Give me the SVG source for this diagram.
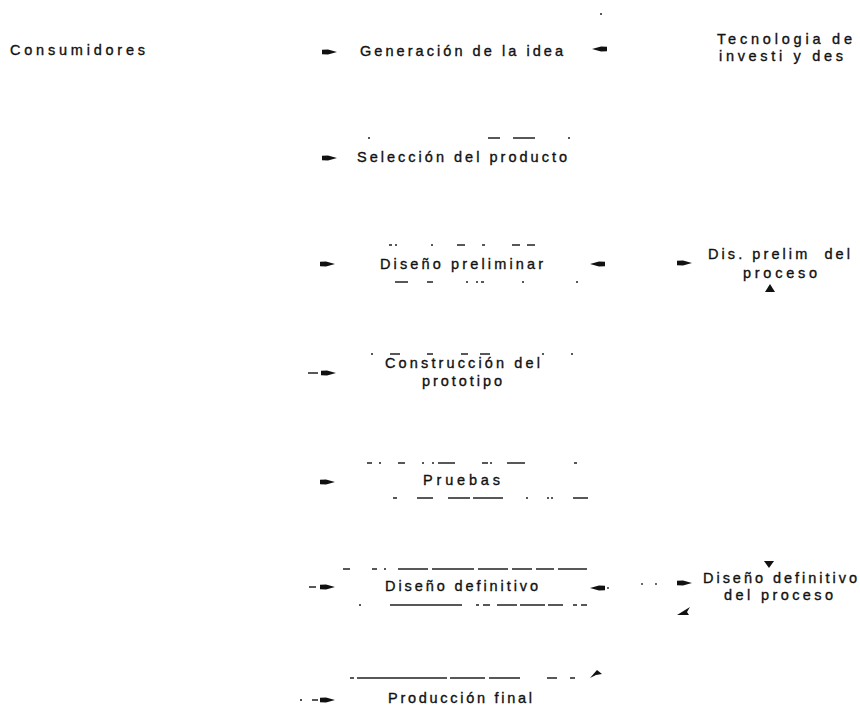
<svg xmlns="http://www.w3.org/2000/svg" width="860" height="711" viewBox="0 0 860 711">
<style>
text{font-family:"Liberation Sans",Arial,sans-serif;font-size:14.5px;fill:#111;stroke:#111;stroke-width:0.35;}
.pre{white-space:pre;}
.frag{stroke:#222;stroke-width:1.4;fill:none;}
.ah{fill:#111;stroke:none;}
.tail{stroke:#111;stroke-width:1.4;}
</style>
<defs>
<path id="ahR" d="M-15,-2.2 L-9,-2.6 L0,0 L-9,2.6 L-15,2.2 Z"/>
<path id="ahL" d="M15,-2.2 L9,-2.6 L0,0 L9,2.6 L15,2.2 Z"/>
</defs>
<rect width="860" height="711" fill="#fff"/>

<g id="consumidores"><text x="10" y="55" textLength="135" lengthAdjust="spacing">Consumidores</text></g>
<g id="tecnologia">
<text x="717" y="44" textLength="135" lengthAdjust="spacing">Tecnologia de</text>
<text x="719" y="61" textLength="124" lengthAdjust="spacing" class="pre">investi y des</text>
</g>
<g id="generacion"><text x="360" y="56" textLength="203" lengthAdjust="spacing">Generación de la idea</text></g>
<g id="seleccion">
<path class="frag" d="M368,138h2 M488,138h12 M513,138h12 M525,138h10 M568,138h2"/>
<text x="357" y="162" textLength="210" lengthAdjust="spacing">Selección del producto</text>
</g>
<g id="diseno-preliminar">
<path class="frag" d="M389,245h3 M395,245h2 M431,245h2 M457,245h8 M482,245h3 M512,245h8 M527,245h8"/>
<text x="380" y="269" textLength="163" lengthAdjust="spacing">Diseño preliminar</text>
<path class="frag" d="M395,282h13 M427,282h6 M466,282h2 M476,282h2 M481,282h3 M522,282h2 M576,282h2"/>
</g>
<g id="dis-prelim-proceso">
<text x="708" y="259" textLength="142" lengthAdjust="spacing" class="pre">Dis. prelim  del</text>
<text x="743" y="278" textLength="74" lengthAdjust="spacing">proceso</text>
</g>
<g id="construccion">
<path class="frag" d="M371,354h2 M390,354h10 M427,354h6 M461,354h7 M480,354h10 M542,354h2 M571,354h2"/>
<text x="385" y="368" textLength="155" lengthAdjust="spacing">Construcción del</text>
<text x="422" y="386" textLength="80" lengthAdjust="spacing">prototipo</text>
</g>
<g id="pruebas">
<path class="frag" d="M367,463h5 M379,463h2 M398,463h7 M422,463h2 M432,463h2 M438,463h17 M482,463h6 M490,463h2 M507,463h18 M574,463h3"/>
<text x="423" y="485" textLength="77" lengthAdjust="spacing">Pruebas</text>
<path class="frag" d="M393,498h4 M417,498h16 M448,498h22 M473,498h30 M526,498h2 M547,498h2 M551,498h2 M573,498h15"/>
</g>
<g id="diseno-definitivo">
<path class="frag" d="M343,569h7 M372,569h5 M384,569h2 M398,569h30 M432,569h42 M478,569h30 M512,569h20 M536,569h18 M558,569h29"/>
<text x="385" y="591" textLength="153" lengthAdjust="spacing">Diseño definitivo</text>
<path class="frag" d="M359,605h2 M390,605h72 M476,605h3 M483,605h7 M497,605h20 M520,605h25 M548,605h15 M573,605h4 M581,605h6"/>
</g>
<g id="diseno-definitivo-proceso">
<text x="703" y="583" textLength="154" lengthAdjust="spacing">Diseño definitivo</text>
<text x="724" y="600" textLength="109" lengthAdjust="spacing">del proceso</text>
</g>
<g id="produccion">
<path class="frag" d="M350,678h4 M357,678h90 M450,678h35 M489,678h31 M547,678h10 M570,678h5"/>
<text x="388" y="703" textLength="144" lengthAdjust="spacing">Producción final</text>
</g>

<g id="connectors">
<circle cx="601" cy="14" r="1" fill="#222"/>
<use href="#ahR" class="ah" x="337" y="52"/>
<use href="#ahL" class="ah" x="592" y="49"/>
<use href="#ahR" class="ah" x="337" y="158"/>
<use href="#ahR" class="ah" x="335" y="264"/>
<use href="#ahL" class="ah" x="590" y="264"/>
<use href="#ahR" class="ah" x="692" y="263"/>
<polygon class="ah" points="765,292 775,292 770,284"/>
<line class="tail" x1="308" y1="373" x2="318" y2="373"/>
<use href="#ahR" class="ah" x="336" y="373"/>
<use href="#ahR" class="ah" x="335" y="482"/>
<line class="tail" x1="309" y1="587" x2="316" y2="587"/>
<use href="#ahR" class="ah" x="335" y="587"/>
<use href="#ahL" class="ah" x="590" y="588"/>
<circle cx="608" cy="588" r="0.9" fill="#222"/>
<circle cx="642" cy="584" r="0.9" fill="#222"/>
<circle cx="656" cy="584" r="0.9" fill="#222"/>
<use href="#ahR" class="ah" x="692" y="583"/>
<polygon class="ah" points="764,561 774,561 769,568"/>
<polygon class="ah" points="677,615 690,607 687,612 689,615"/>
<polygon class="ah" points="590,678 597,670 602,674 596,675"/>
<line class="tail" x1="300" y1="700" x2="302" y2="700"/>
<line class="tail" x1="312" y1="700" x2="318" y2="700"/>
<use href="#ahR" class="ah" x="335" y="700"/>
</g>
</svg>
